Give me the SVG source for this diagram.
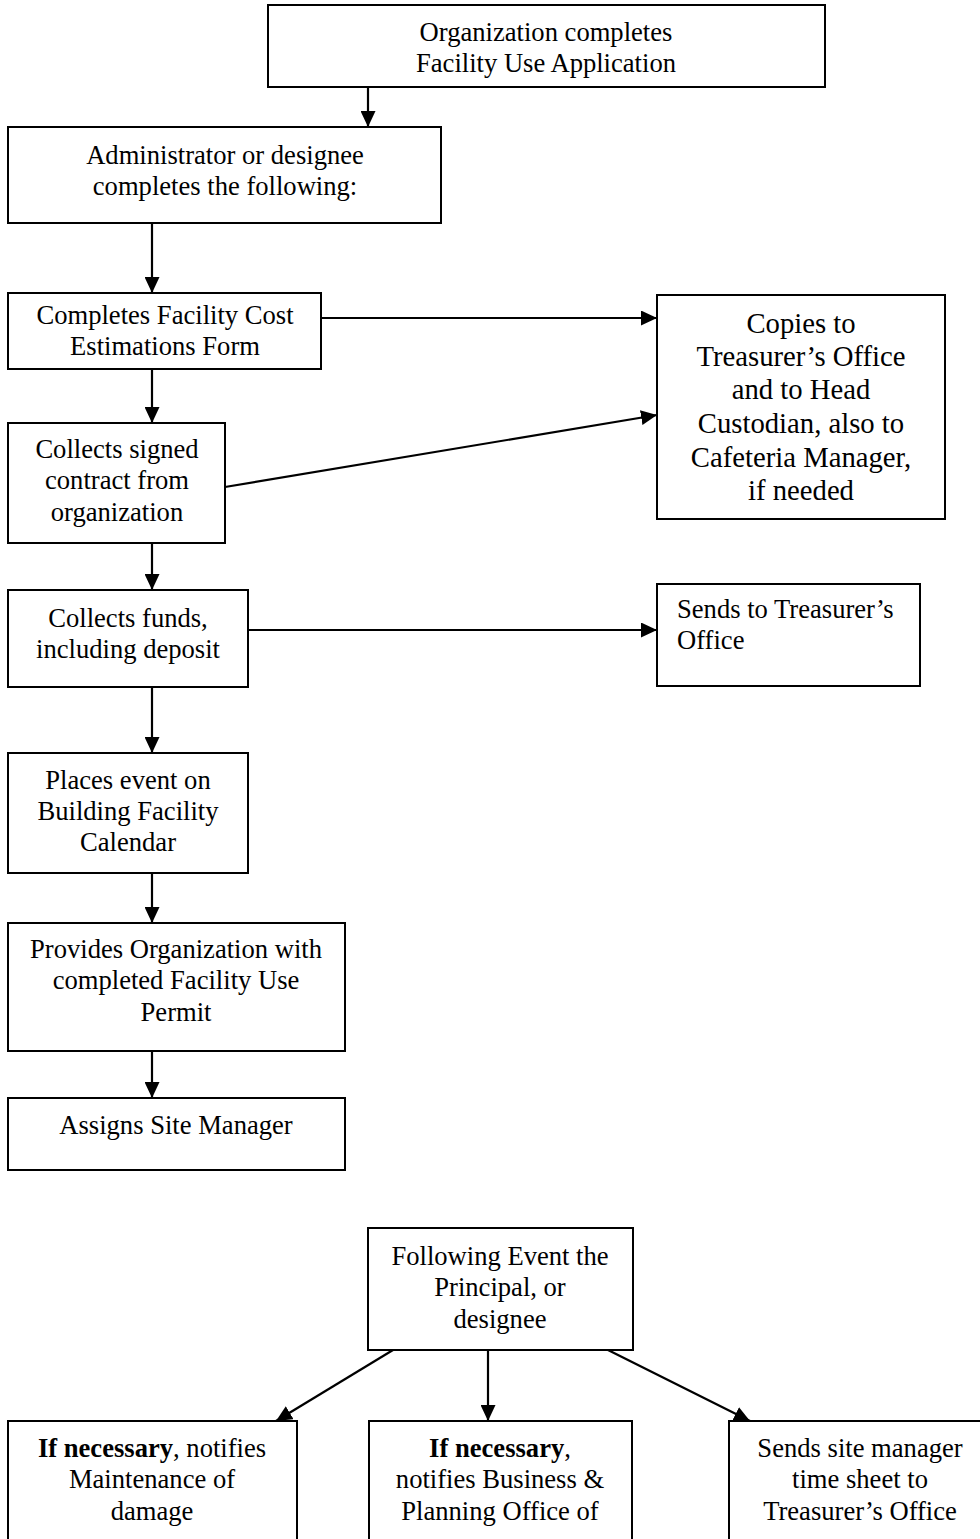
<svg xmlns="http://www.w3.org/2000/svg" width="980" height="1539" viewBox="0 0 980 1539">
<style>
  rect.box { fill: #ffffff; stroke: #000000; stroke-width: 2; }
  text { font-family: "Liberation Serif", "Times New Roman", serif; font-size: 26.6px; fill: #000000; text-anchor: middle; }
  text.big { font-size: 28.7px; }
  text.left { text-anchor: start; }
  .conn line { stroke: #000000; stroke-width: 2.2; fill: none; marker-end: url(#arr); }
  .b { font-weight: bold; }
</style>
<defs>
  <marker id="arr" markerUnits="userSpaceOnUse" markerWidth="17" markerHeight="15" refX="16" refY="7.5" orient="auto">
    <path d="M0,0 L16,7.5 L0,15 z" fill="#000000"/>
  </marker>
</defs>
<rect width="980" height="1539" fill="#ffffff"/>

<g id="connectors" class="conn">
  <line x1="368" y1="87" x2="368" y2="127"/>
  <line x1="152" y1="223" x2="152" y2="293"/>
  <line x1="321" y1="318" x2="657" y2="318"/>
  <line x1="152" y1="369" x2="152" y2="423"/>
  <line x1="225" y1="487" x2="657" y2="415"/>
  <line x1="152" y1="543" x2="152" y2="590"/>
  <line x1="248" y1="630" x2="657" y2="630"/>
  <line x1="152" y1="687" x2="152" y2="753"/>
  <line x1="152" y1="873" x2="152" y2="923"/>
  <line x1="152" y1="1051" x2="152" y2="1098"/>
  <line x1="393" y1="1350" x2="276" y2="1421"/>
  <line x1="488" y1="1350" x2="488" y2="1421"/>
  <line x1="608" y1="1350" x2="750" y2="1421"/>
</g>

<g id="n-org">
  <rect class="box" x="268" y="5" width="557" height="82"/>
  <text x="546" y="41">Organization completes</text>
  <text x="546" y="72">Facility Use Application</text>
</g>

<g id="n-admin">
  <rect class="box" x="8" y="127" width="433" height="96"/>
  <text x="225" y="164">Administrator or designee</text>
  <text x="225" y="195">completes the following:</text>
</g>

<g id="n-cost">
  <rect class="box" x="8" y="293" width="313" height="76"/>
  <text x="165" y="324">Completes Facility Cost</text>
  <text x="165" y="355">Estimations Form</text>
</g>

<g id="n-copies">
  <rect class="box" x="657" y="295" width="288" height="224"/>
  <text class="big" x="801" y="333">Copies to</text>
  <text class="big" x="801" y="366">Treasurer’s Office</text>
  <text class="big" x="801" y="399">and to Head</text>
  <text class="big" x="801" y="433">Custodian, also to</text>
  <text class="big" x="801" y="467">Cafeteria Manager,</text>
  <text class="big" x="801" y="500">if needed</text>
</g>

<g id="n-contract">
  <rect class="box" x="8" y="423" width="217" height="120"/>
  <text x="117" y="458">Collects signed</text>
  <text x="117" y="489">contract from</text>
  <text x="117" y="521">organization</text>
</g>

<g id="n-funds">
  <rect class="box" x="8" y="590" width="240" height="97"/>
  <text x="128" y="627">Collects funds,</text>
  <text x="128" y="658">including deposit</text>
</g>

<g id="n-sends">
  <rect class="box" x="657" y="584" width="263" height="102"/>
  <text class="left" x="677" y="618">Sends to Treasurer’s</text>
  <text class="left" x="677" y="649">Office</text>
</g>

<g id="n-calendar">
  <rect class="box" x="8" y="753" width="240" height="120"/>
  <text x="128" y="789">Places event on</text>
  <text x="128" y="820">Building Facility</text>
  <text x="128" y="851">Calendar</text>
</g>

<g id="n-permit">
  <rect class="box" x="8" y="923" width="337" height="128"/>
  <text x="176" y="958">Provides Organization with</text>
  <text x="176" y="989">completed Facility Use</text>
  <text x="176" y="1021">Permit</text>
</g>

<g id="n-site">
  <rect class="box" x="8" y="1098" width="337" height="72"/>
  <text x="176" y="1134">Assigns Site Manager</text>
</g>

<g id="n-following">
  <rect class="box" x="368" y="1228" width="265" height="122"/>
  <text x="500" y="1265">Following Event the</text>
  <text x="500" y="1296">Principal, or</text>
  <text x="500" y="1328">designee</text>
</g>

<g id="n-maint">
  <rect class="box" x="8" y="1421" width="289" height="140"/>
  <text x="152" y="1457"><tspan class="b">If necessary</tspan>, notifies</text>
  <text x="152" y="1488">Maintenance of</text>
  <text x="152" y="1520">damage</text>
</g>

<g id="n-business">
  <rect class="box" x="369" y="1421" width="263" height="140"/>
  <text x="500" y="1457"><tspan class="b">If necessary</tspan>,</text>
  <text x="500" y="1488">notifies Business &amp;</text>
  <text x="500" y="1520">Planning Office of</text>
</g>

<g id="n-timesheet">
  <rect class="box" x="729" y="1421" width="262" height="140"/>
  <text x="860" y="1457">Sends site manager</text>
  <text x="860" y="1488">time sheet to</text>
  <text x="860" y="1520">Treasurer’s Office</text>
</g>
</svg>
